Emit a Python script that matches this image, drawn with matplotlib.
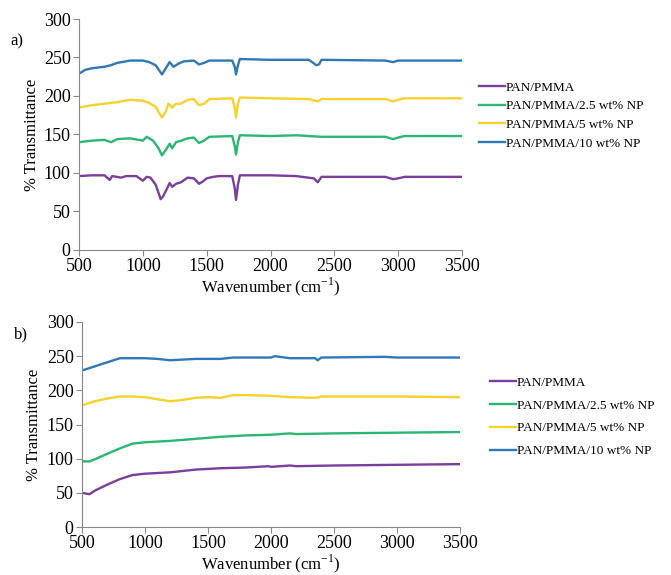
import numpy as np
import matplotlib.pyplot as plt

plt.rcParams['font.family'] = ['Liberation Serif', 'DejaVu Serif']
plt.rcParams['mathtext.fontset'] = 'custom'
plt.rcParams['mathtext.rm'] = 'Liberation Serif'

labels = ['PAN/PMMA', 'PAN/PMMA/2.5 wt% NP', 'PAN/PMMA/5 wt% NP', 'PAN/PMMA/10 wt% NP']
colors = ['#7a3e9d', '#2bb673', '#f7d12e', '#2f78b7']

# panel a) spectra (wavenumber, %T)
a_pan_x = [500, 600, 700, 740, 760, 830, 870, 950, 1000, 1030, 1060, 1100, 1140, 1160, 1190, 1210, 1230, 1260,
           1300, 1350, 1400, 1440, 1470, 1500, 1550, 1600, 1700, 1720, 1730, 1745, 1760, 2000, 2200, 2340, 2370,
           2400, 2900, 2960, 3000, 3050, 3500]
a_pan_y = [96, 97, 97, 91, 96, 94, 96, 96, 90, 95, 94, 85, 66, 70, 80, 87, 82, 86,
           88, 94, 93, 86, 89, 93, 95, 96, 96, 80, 65, 85, 97, 97, 96, 93, 88,
           95, 95, 92, 93, 95, 95]
a_25_x = [500, 600, 700, 750, 800, 900, 1000, 1030, 1080, 1120, 1150, 1180, 1210, 1230, 1260, 1300, 1350, 1400,
          1440, 1480, 1520, 1700, 1720, 1730, 1745, 1760, 2000, 2200, 2400, 2900, 2960, 3000, 3050, 3500]
a_25_y = [140, 142, 143, 140, 144, 145, 142, 147, 142, 133, 123, 130, 138, 132, 140, 142, 145, 146,
          139, 142, 147, 148, 135, 124, 140, 149, 148, 149, 147, 147, 144, 146, 148, 148]
a_5_x = [500, 600, 700, 800, 900, 1000, 1050, 1100, 1150, 1180, 1200, 1230, 1260, 1300, 1350, 1400, 1440, 1480,
         1520, 1700, 1720, 1730, 1745, 1760, 2000, 2300, 2370, 2400, 2900, 2960, 3000, 3050, 3500]
a_5_y = [185, 188, 190, 192, 195, 194, 191, 186, 172, 180, 190, 185, 190, 190, 195, 196, 188, 190,
         196, 197, 185, 172, 190, 198, 197, 196, 193, 196, 196, 193, 195, 197, 197]
a_10_x = [500, 550, 600, 700, 750, 800, 900, 1000, 1050, 1100, 1150, 1180, 1210, 1240, 1280, 1320, 1400, 1440,
          1480, 1520, 1700, 1720, 1730, 1745, 1760, 2000, 2300, 2360, 2380, 2400, 2900, 2960, 3000, 3500]
a_10_y = [229, 234, 236, 238, 240, 243, 246, 246, 244, 240, 228, 236, 244, 238, 242, 245, 246, 241,
          243, 246, 246, 238, 228, 240, 248, 247, 247, 240, 241, 247, 246, 244, 246, 246]

# panel b) spectra
b_pan_x = [500, 560, 600, 700, 800, 900, 1000, 1200, 1400, 1600, 1800, 1980, 2000, 2150, 2200, 2500, 3000, 3500]
b_pan_y = [50, 48, 53, 62, 70, 76, 78, 80, 84, 86, 87, 89, 88, 90, 89, 90, 91, 92]
b_25_x = [500, 560, 600, 700, 800, 900, 1000, 1200, 1400, 1600, 1800, 2000, 2150, 2200, 2500, 3000, 3500]
b_25_y = [96, 96, 99, 107, 115, 122, 124, 126, 129, 132, 134, 135, 137, 136, 137, 138, 139]
b_5_x = [500, 600, 700, 800, 900, 1000, 1100, 1200, 1300, 1400, 1500, 1600, 1700, 1800, 2000, 2150, 2350, 2400,
         3000, 3500]
b_5_y = [178, 184, 188, 191, 191, 190, 187, 184, 186, 189, 190, 189, 193, 193, 192, 190, 189, 191, 191, 190]
b_10_x = [500, 600, 700, 800, 1000, 1100, 1200, 1300, 1400, 1600, 1700, 2000, 2030, 2150, 2350, 2370, 2400,
          2900, 3000, 3500]
b_10_y = [229, 235, 241, 247, 247, 246, 244, 245, 246, 246, 248, 248, 250, 247, 247, 244, 248, 249, 248, 248]

panel_a = [(a_pan_x, a_pan_y), (a_25_x, a_25_y), (a_5_x, a_5_y), (a_10_x, a_10_y)]
panel_b = [(b_pan_x, b_pan_y), (b_25_x, b_25_y), (b_5_x, b_5_y), (b_10_x, b_10_y)]

W, H = 671, 575
fig = plt.figure(figsize=(W / 100, H / 100), dpi=100)

def frame(l, r, t, b):
    return [l / W, 1 - b / H, (r - l) / W, (b - t) / H]

axes = [fig.add_axes(frame(79, 462, 19, 250)), fig.add_axes(frame(82, 460, 322, 527))]
tags = ['a)', 'b)']
tag_y = [0.885, 0.92]
leg_pos = [(472, 75), (483, 370)]
leg_space = [0.48, 0.8]

for ax, data, tag, ty, lp, ls in zip(axes, [panel_a, panel_b], tags, tag_y, leg_pos, leg_space):
    for (x, y), c, lab in zip(data, colors, labels):
        ax.plot(x, y, color=c, lw=1.7, label=lab)
    ax.set_xlim(500, 3500)
    ax.set_ylim(0, 300)
    ax.set_xticks(np.arange(500, 3501, 500))
    ax.set_yticks(np.arange(0, 301, 50))
    for s in ['top', 'right']:
        ax.spines[s].set_visible(False)
    for s in ['left', 'bottom']:
        ax.spines[s].set_color('#888888')
    ax.tick_params(labelsize=13, color='#888888', length=4, width=0.8, pad=2)
    ax.set_ylabel('% Transmittance', fontsize=12, labelpad=3)
    ax.set_xlabel('Wavenumber (cm$^{-1}$)', fontsize=12, labelpad=0)
    ax.text(-0.18, ty, tag, transform=ax.transAxes, fontsize=12)
    ax.legend(loc='upper left', bbox_to_anchor=(lp[0] / W, 1 - lp[1] / H), bbox_transform=fig.transFigure,
              frameon=False, fontsize=9.5, handlelength=2.0, handletextpad=0.05, labelspacing=ls,
              borderpad=0)

fig.savefig('out.png', dpi=100)
